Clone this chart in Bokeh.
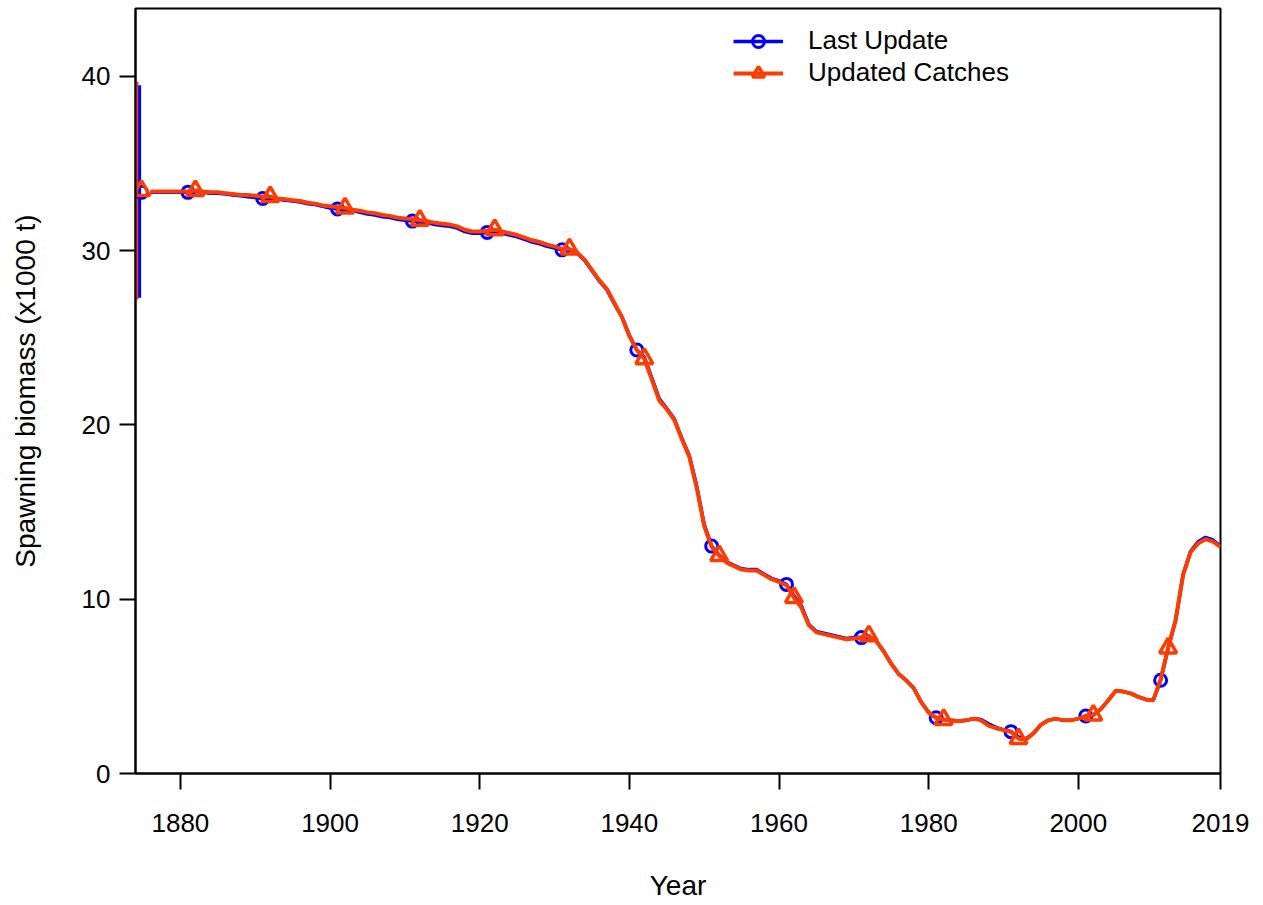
from bokeh.plotting import figure
from bokeh.models import Range1d, FixedTicker, Legend, LegendItem
from bokeh.embed import file_html
from bokeh.resources import INLINE

# ---------------- data ----------------
first_year = 1876
updated_catches = [
    33.4, 33.4, 33.4, 33.4, 33.4, 33.4, 33.45, 33.4, 33.35, 33.35,   # 1876-1885
    33.3, 33.25, 33.2, 33.2, 33.15, 33.1, 33.1, 33.0, 32.95, 32.9,    # 1886-1895
    32.85, 32.75, 32.7, 32.6, 32.55, 32.5, 32.45, 32.35, 32.3, 32.2,  # 1896-1905
    32.15, 32.05, 32.0, 31.9, 31.85, 31.8, 31.75, 31.7, 31.6, 31.55,  # 1906-1915
    31.5, 31.4, 31.2, 31.1, 31.1, 31.15, 31.2, 31.1, 31.0, 30.9,      # 1916-1925
    30.75, 30.6, 30.5, 30.35, 30.25, 30.1, 30.1, 29.9, 29.5, 28.9,    # 1926-1935
    28.3, 27.8, 27.0, 26.2, 25.1, 24.3, 23.8, 22.6, 21.4, 20.9,       # 1936-1945
    20.3, 19.2, 18.2, 16.4, 14.2, 13.0, 12.5, 12.1, 11.9, 11.7,       # 1946-1955
    11.65, 11.65, 11.4, 11.15, 11.0, 10.8, 10.1, 9.5, 8.5, 8.1,       # 1956-1965
    8.0, 7.9, 7.8, 7.7, 7.75, 7.8, 7.9, 7.6, 7.0, 6.3,                # 1966-1975
    5.7, 5.35, 4.9, 4.1, 3.5, 3.2, 3.1, 3.05, 3.0, 3.05,              # 1976-1985
    3.15, 3.05, 2.75, 2.6, 2.5, 2.4, 2.0, 1.95, 2.3, 2.8,             # 1986-1995
    3.05, 3.15, 3.05, 3.05, 3.15, 3.3, 3.35, 3.7, 4.2, 4.75,          # 1996-2005
    4.7, 4.6, 4.4, 4.25, 4.2, 5.4, 7.2, 8.8, 11.4, 12.7,              # 2006-2015
    13.2, 13.45, 13.3, 13.0,                                          # 2016-2019
]
last_update = [
    33.35, 33.35, 33.35, 33.35, 33.35, 33.35, 33.4, 33.35, 33.3, 33.3,
    33.25, 33.2, 33.15, 33.1, 33.05, 33.0, 33.0, 32.95, 32.9, 32.85,
    32.8, 32.7, 32.65, 32.55, 32.45, 32.4, 32.35, 32.3, 32.2, 32.1,
    32.05, 31.95, 31.9, 31.8, 31.75, 31.7, 31.65, 31.6, 31.5, 31.45,
    31.4, 31.3, 31.1, 31.0, 31.0, 31.05, 31.1, 31.0, 30.9, 30.8,
    30.65, 30.5, 30.4, 30.25, 30.15, 30.05, 30.05, 29.85, 29.45, 28.85,
    28.25, 27.75, 26.95, 26.2, 25.15, 24.3, 23.9, 22.7, 21.5, 20.95,
    20.35, 19.25, 18.25, 16.5, 14.3, 13.05, 12.55, 12.15, 11.95, 11.75,
    11.7, 11.7, 11.45, 11.2, 11.05, 10.85, 10.2, 9.6, 8.55, 8.15,
    8.05, 7.95, 7.85, 7.75, 7.8, 7.8, 7.9, 7.6, 7.0, 6.3,
    5.7, 5.35, 4.9, 4.1, 3.5, 3.2, 3.1, 3.05, 3.0, 3.05,
    3.15, 3.1, 2.85, 2.65, 2.5, 2.4, 2.1, 2.0, 2.3, 2.8,
    3.05, 3.15, 3.05, 3.05, 3.15, 3.3, 3.35, 3.7, 4.2, 4.75,
    4.7, 4.6, 4.4, 4.25, 4.2, 5.35, 7.2, 8.8, 11.4, 12.75,
    13.3, 13.55, 13.4, 13.05,
]
years = list(range(first_year, first_year + len(updated_catches)))

# virgin biomass and its interval
virgin_year = 1874.8
virgin_last = 33.35
virgin_updated = 33.45
ci_year_last = 1874.55
ci_year_updated = 1874.2
ci_last = (27.3, 39.5)
ci_updated = (27.2, 39.7)

marker_years_last = [1881, 1891, 1901, 1911, 1921, 1931, 1941, 1951, 1961, 1971, 1981, 1991, 2001, 2011]
marker_years_updated = [1882, 1892, 1902, 1912, 1922, 1932, 1942, 1952, 1962, 1972, 1982, 1992, 2002, 2012]

x_ticks = [1880, 1900, 1920, 1940, 1960, 1980, 2000, 2019]
y_ticks = [0, 10, 20, 30, 40]

BLUE = "#0000FF"
RED = "#FF3C00"
FONT = "Liberation Sans"

# ---------------- figure ----------------
p = figure(width=1255, height=904, output_backend="svg", toolbar_location=None,
           x_range=Range1d(1874, 2019), y_range=Range1d(0, 43.9),
           min_border_left=135, min_border_right=35, min_border_top=8, min_border_bottom=131)
p.grid.visible = False
p.outline_line_color = "black"
p.outline_line_width = 2
p.background_fill_color = "white"
p.border_fill_color = "white"

for ax in (p.xaxis[0], p.yaxis[0]):
    ax.axis_line_width = 2
    ax.major_tick_line_width = 2
    ax.major_tick_out = 16
    ax.major_tick_in = 0
    ax.minor_tick_line_color = None
    ax.major_label_text_font = FONT
    ax.major_label_text_font_size = "26px"
    ax.major_label_text_color = "black"
    ax.axis_label_text_font = FONT
    ax.axis_label_text_font_size = "28px"
    ax.axis_label_text_font_style = "normal"
    ax.axis_label_text_color = "black"

p.xaxis.ticker = FixedTicker(ticks=x_ticks)
p.yaxis.ticker = FixedTicker(ticks=y_ticks)
p.xaxis.axis_label = "Year"
p.yaxis.axis_label = "Spawning biomass (x1000 t)"
p.xaxis.major_label_standoff = 24
p.yaxis.major_label_standoff = 9
p.xaxis.axis_label_standoff = 35
p.yaxis.axis_label_standoff = 38

def pick(vals, yrs):
    return [vals[y - first_year] for y in yrs]

# interval bars (updated first so the blue one stays visible)
p.segment(x0=[ci_year_updated], y0=[ci_updated[0]], x1=[ci_year_updated], y1=[ci_updated[1]],
          line_color=RED, line_width=3)
p.segment(x0=[ci_year_last], y0=[ci_last[0]], x1=[ci_year_last], y1=[ci_last[1]],
          line_color=BLUE, line_width=3)

# blue: last update
l_blue = p.line(years, last_update, line_color=BLUE, line_width=3.5)
m_blue = p.scatter([virgin_year] + marker_years_last,
                   [virgin_last] + pick(last_update, marker_years_last),
                   marker="circle", size=12, fill_color=None, line_color=BLUE, line_width=3)

# red: updated catches
l_red = p.line(years, updated_catches, line_color=RED, line_width=4)
m_red = p.scatter([virgin_year] + marker_years_updated,
                  [virgin_updated] + pick(updated_catches, marker_years_updated),
                  marker="triangle", size=17, fill_color=None, line_color=RED, line_width=3.5)

legend = Legend(items=[LegendItem(label="Last Update", renderers=[l_blue, m_blue]),
                       LegendItem(label="Updated Catches", renderers=[l_red, m_red])],
                location=(598, 685), padding=0, margin=0, spacing=1,
                glyph_width=50, glyph_height=30, label_height=30, label_standoff=25,
                label_text_font=FONT, label_text_font_size="26px", label_text_color="black",
                border_line_color=None, background_fill_alpha=0)
p.add_layout(legend, "center")

open("out.html", "w").write(file_html(p, INLINE))
